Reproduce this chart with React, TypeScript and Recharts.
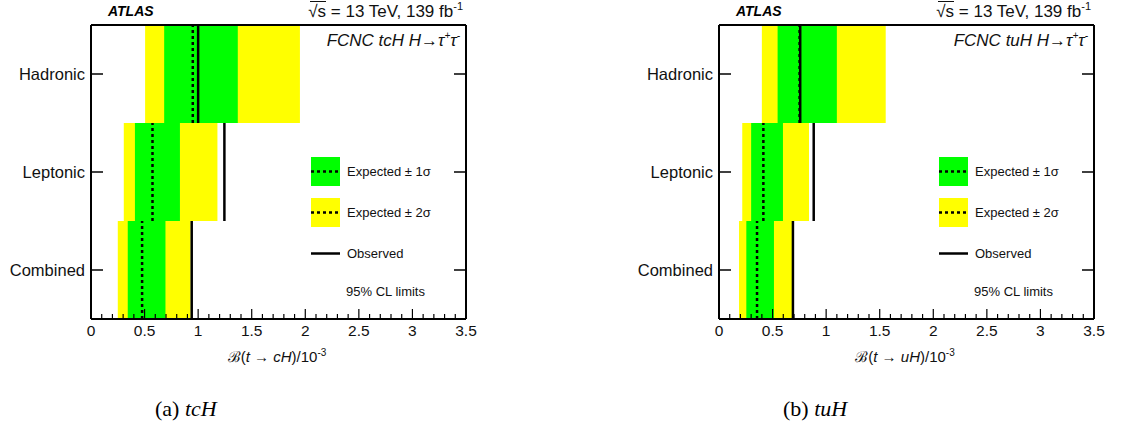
import { ComposedChart, ReferenceArea, ReferenceLine, XAxis, YAxis } from "recharts";

// rows from bottom to top
const channels = ["Combined", "Leptonic", "Hadronic"];
const rowCentres = [0.5, 1.5, 2.5];

// tcH limits, in units of 10^-3
const tcHExpected = [0.477, 0.574, 0.95];
const tcHObserved = [0.94, 1.245, 1.0];
const tcHSigma1Low = [0.343, 0.41, 0.683];
const tcHSigma1High = [0.695, 0.83, 1.37];
const tcHSigma2Low = [0.25, 0.306, 0.505];
const tcHSigma2High = [0.93, 1.18, 1.95];

// tuH limits, in units of 10^-3
const tuHExpected = [0.355, 0.414, 0.752];
const tuHObserved = [0.69, 0.884, 0.758];
const tuHSigma1Low = [0.255, 0.3, 0.547];
const tuHSigma1High = [0.513, 0.597, 1.1];
const tuHSigma2Low = [0.187, 0.217, 0.4];
const tuHSigma2High = [0.688, 0.84, 1.556];

const xTickLabels = ["0", "0.5", "1", "1.5", "2", "2.5", "3", "3.5"];
const xTicks = [
  0, 0.1, 0.2, 0.3, 0.4, 0.5, 0.6, 0.7, 0.8, 0.9, 1, 1.1, 1.2, 1.3, 1.4, 1.5, 1.6, 1.7, 1.8, 1.9, 2, 2.1, 2.2, 2.3,
  2.4, 2.5, 2.6, 2.7, 2.8, 2.9, 3, 3.1, 3.2, 3.3, 3.4, 3.5,
];

const SANS = "'Liberation Sans', Arial, Helvetica, sans-serif";
const YELLOW = "#ffff00";
const GREEN = "#00ff00";

function majorIndex(v: number) {
  const i = Math.round(v * 2);
  return Math.abs(v * 2 - i) < 1e-6 ? i : -1;
}

function BottomTick(props: any) {
  const { x, y, payload } = props;
  const i = majorIndex(payload.value);
  return (
    <g>
      <line x1={x} x2={x} y1={y} y2={y - (i >= 0 ? 10 : 5)} stroke="#000" strokeWidth={1.2} />
      {i >= 0 && (
        <text x={x} y={y + 17} textAnchor="middle" fontSize={15.5} fontFamily={SANS} fill="#111">
          {xTickLabels[i]}
        </text>
      )}
    </g>
  );
}

function TopTick(props: any) {
  const { x, y, payload } = props;
  const i = majorIndex(payload.value);
  return <line x1={x} x2={x} y1={y} y2={y + (i >= 0 ? 10 : 5)} stroke="#000" strokeWidth={1.2} />;
}

function LeftTick(props: any) {
  const { x, y, payload } = props;
  const idx = rowCentres.indexOf(payload.value);
  return (
    <g>
      <line x1={x} x2={x + 12} y1={y} y2={y} stroke="#000" strokeWidth={1.5} />
      <text x={x - 6} y={y + 6} textAnchor="end" fontSize={16.5} fontFamily={SANS} fill="#111">
        {channels[idx]}
      </text>
    </g>
  );
}

function RightTick(props: any) {
  const { x, y } = props;
  return <line x1={x - 12} x2={x} y1={y} y2={y} stroke="#000" strokeWidth={1.5} />;
}

type PanelProps = {
  left: number;
  expected: number[];
  observed: number[];
  s1Low: number[];
  s1High: number[];
  s2Low: number[];
  s2High: number[];
  process: string;
  quark: string;
  tag: string;
};

function Panel(p: PanelProps) {
  return (
    <div style={{ position: "absolute", left: p.left, top: 0, width: 480, height: 438, fontFamily: SANS }}>
      <ComposedChart width={480} height={380} margin={{ top: 0, right: 0, bottom: 21, left: 0 }}>
        <XAxis
          type="number"
          dataKey="x"
          domain={[0, 3.5]}
          ticks={xTicks}
          interval={0}
          tick={<BottomTick />}
          tickLine={false}
          tickSize={0}
          tickMargin={0}
          height={40}
          axisLine={{ stroke: "#000", strokeWidth: 2 }}
          allowDataOverflow
        />
        <XAxis
          xAxisId="top"
          orientation="top"
          type="number"
          domain={[0, 3.5]}
          ticks={xTicks}
          interval={0}
          tick={<TopTick />}
          tickLine={false}
          tickSize={0}
          tickMargin={0}
          height={25}
          axisLine={{ stroke: "#000", strokeWidth: 2 }}
          allowDataOverflow
        />
        <YAxis
          type="number"
          domain={[0, 3]}
          ticks={rowCentres}
          interval={0}
          tick={<LeftTick />}
          tickLine={false}
          tickSize={0}
          tickMargin={0}
          width={91}
          axisLine={{ stroke: "#000", strokeWidth: 2 }}
          allowDataOverflow
        />
        <YAxis
          yAxisId="right"
          orientation="right"
          type="number"
          domain={[0, 3]}
          ticks={rowCentres}
          interval={0}
          tick={<RightTick />}
          tickLine={false}
          tickSize={0}
          tickMargin={0}
          width={14}
          axisLine={{ stroke: "#000", strokeWidth: 2 }}
          allowDataOverflow
        />
        {channels.map((c, i) => (
          <ReferenceArea
            key={"y" + c}
            x1={p.s2Low[i]}
            x2={p.s2High[i]}
            y1={i}
            y2={i + 1}
            fill={YELLOW}
            fillOpacity={1}
            stroke="none"
          />
        ))}
        {channels.map((c, i) => (
          <ReferenceArea
            key={"g" + c}
            x1={p.s1Low[i]}
            x2={p.s1High[i]}
            y1={i}
            y2={i + 1}
            fill={GREEN}
            fillOpacity={1}
            stroke="none"
          />
        ))}
        {channels.map((c, i) => (
          <ReferenceLine
            key={"o" + c}
            segment={[
              { x: p.observed[i], y: i },
              { x: p.observed[i], y: i + 1 },
            ]}
            stroke="#000"
            strokeWidth={2.5}
          />
        ))}
        {channels.map((c, i) => (
          <ReferenceLine
            key={"e" + c}
            segment={[
              { x: p.expected[i], y: i },
              { x: p.expected[i], y: i + 1 },
            ]}
            stroke="#000"
            strokeWidth={2.5}
            strokeDasharray="3 3"
          />
        ))}
      </ComposedChart>

      <div style={{ position: "absolute", left: 108, top: 3, fontSize: 14, fontWeight: "bold", fontStyle: "italic" }}>
        ATLAS
      </div>
      <div style={{ position: "absolute", right: 17, top: 0, fontSize: 17, color: "#111", whiteSpace: "nowrap" }}>
        <span style={{ borderTop: "1px solid #111" }}>
          <span style={{ marginLeft: -2 }}>√</span>s
        </span>{" "}
        = 13 TeV, 139 fb<sup style={{ fontSize: 11 }}>-1</sup>
      </div>
      <div
        style={{
          position: "absolute",
          right: 20,
          top: 30,
          fontSize: 17,
          fontStyle: "italic",
          color: "#111",
          whiteSpace: "nowrap",
        }}
      >
        FCNC {p.process} H→τ<sup style={{ fontSize: 10 }}>+</sup>τ<sup style={{ fontSize: 10 }}>-</sup>
      </div>

      {/* legend */}
      <div style={{ position: "absolute", left: 311, top: 157, width: 160, fontSize: 13, color: "#111" }}>
        {[
          { fill: GREEN, label: "Expected ± 1σ", dash: true },
          { fill: YELLOW, label: "Expected ± 2σ", dash: true },
          { fill: "none", label: "Observed", dash: false },
        ].map((e, k) => (
          <div
            key={k}
            style={{ position: "absolute", left: 0, top: k * 41, height: 29, display: "flex", alignItems: "center", whiteSpace: "nowrap" }}
          >
            <svg width={30} height={29}>
              <rect x={0} y={0} width={29} height={29} fill={e.fill} />
              <line
                x1={0}
                x2={29}
                y1={14.5}
                y2={14.5}
                stroke="#000"
                strokeWidth={2.5}
                strokeDasharray={e.dash ? "3 3" : undefined}
              />
            </svg>
            <span style={{ marginLeft: 6 }}>{e.label}</span>
          </div>
        ))}
        <div style={{ position: "absolute", left: 35, top: 127, whiteSpace: "nowrap" }}>95% CL limits</div>
      </div>

      <div
        style={{
          position: "absolute",
          left: 177,
          width: 200,
          top: 346,
          textAlign: "center",
          fontSize: 15,
          color: "#111",
          whiteSpace: "nowrap",
        }}
      >
        ℬ(<i>t</i> → <i>{p.quark}H</i>)/10<sup style={{ fontSize: 10 }}>-3</sup>
      </div>
      <div
        style={{
          position: "absolute",
          left: 155,
          top: 396,
          fontSize: 22,
          fontFamily: "'Liberation Serif', 'Times New Roman', serif",
          color: "#000",
          whiteSpace: "nowrap",
        }}
      >
        ({p.tag}) <i>t{p.quark}H</i>
      </div>
    </div>
  );
}

export default function App() {
  return (
    <div style={{ position: "absolute", left: 0, top: 0, width: 1122, height: 438, background: "#fff" }}>
      <Panel
        left={0}
        expected={tcHExpected}
        observed={tcHObserved}
        s1Low={tcHSigma1Low}
        s1High={tcHSigma1High}
        s2Low={tcHSigma2Low}
        s2High={tcHSigma2High}
        process="tcH"
        quark="c"
        tag="a"
      />
      <Panel
        left={628}
        expected={tuHExpected}
        observed={tuHObserved}
        s1Low={tuHSigma1Low}
        s1High={tuHSigma1High}
        s2Low={tuHSigma2Low}
        s2High={tuHSigma2High}
        process="tuH"
        quark="u"
        tag="b"
      />
    </div>
  );
}
